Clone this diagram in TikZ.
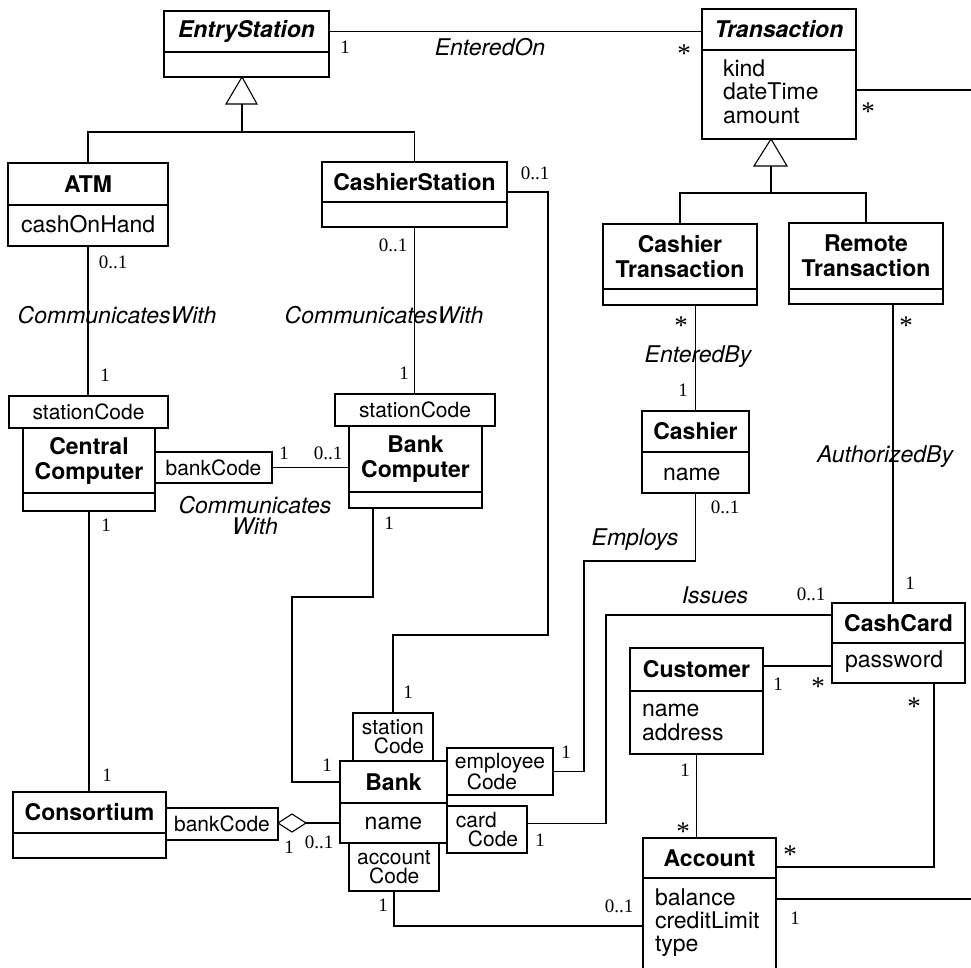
\documentclass[tikz,border=0pt]{standalone}
\usepackage{fontspec}
\setmainfont{TeX Gyre Heros}
\newfontfamily\mfont{Liberation Serif}
\usetikzlibrary{shapes.geometric}
\tikzset{
 every node/.style={inner sep=0pt, outer sep=0pt},
 cls/.style={draw, fill=white, line width=1.2pt, font=\fontsize{23}{25}\selectfont\bfseries, align=center},
 att/.style={draw, fill=white, line width=1.2pt, font=\fontsize{23}{23.5}\selectfont},
 qual/.style={draw, fill=white, line width=1.2pt, font=\fontsize{21}{19.5}\selectfont, align=left},
 txt/.style={font=\fontsize{23}{23.5}\selectfont, anchor=base west},
 mult/.style={font=\fontsize{19}{19}\selectfont\mfont},
 star/.style={font=\fontsize{27}{27}\selectfont\mfont},
 alab/.style={font=\fontsize{23}{21}\selectfont\itshape, align=center},
 ln/.style={line width=1.1pt},
}
\newcommand\bx[7][]{\node[#1, minimum width=#5pt-#3pt, minimum height=#6pt-#4pt] (#2) at ({(#3+#5)/2},{(#4+#6)/2}) {#7};}
\begin{document}
\begin{tikzpicture}[x=1pt,y=-1pt]
\fill[white] (0,0) rectangle (971,967);
\useasboundingbox (0,0) rectangle (971,967);

% classes
\bx[cls]{esH}{164}{11}{329}{52}{\itshape EntryStation}
\bx[att]{esA}{164}{52}{329}{77}{}
\bx[cls]{trH}{702}{9}{856}{50}{\itshape Transaction}
\bx[att]{trA}{702}{50}{856}{139}{}
\bx[cls]{atmH}{8}{163}{168}{205}{ATM}
\bx[att]{atmA}{8}{205}{168}{246}{}
\bx[cls]{csH}{322}{162}{507}{202}{CashierStation}
\bx[att]{csA}{322}{202}{507}{227}{}
\bx[cls]{ctH}{603}{224}{757}{289}{Cashier\\Transaction}
\bx[att]{ctA}{603}{289}{757}{305}{}
\bx[cls]{rtH}{789}{223}{943}{289}{Remote\\Transaction}
\bx[att]{rtA}{789}{289}{943}{304}{}
\bx[qual]{ccS}{9}{396}{168}{428}{stationCode}
\bx[cls]{ccH}{23}{428}{155}{493}{Central\\Computer}
\bx[att]{ccA}{23}{493}{155}{511}{}
\bx[qual]{ccB}{155}{452}{272}{483}{bankCode}
\bx[qual]{bcS}{335}{394}{495}{426}{stationCode}
\bx[cls]{bcH}{349}{426}{482}{492}{Bank\\Computer}
\bx[att]{bcA}{349}{492}{482}{508}{}
\bx[cls]{caH}{642}{411}{749}{452}{Cashier}
\bx[att]{caA}{642}{452}{749}{493}{}
\bx[cls]{cdH}{832}{603}{965}{643}{CashCard}
\bx[att]{cdA}{832}{643}{965}{683}{}
\bx[cls]{cuH}{630}{648}{763}{691}{Customer}
\bx[att]{cuA}{630}{691}{763}{754}{}
\bx[cls]{coH}{13}{792}{166}{833}{Consortium}
\bx[att]{coA}{13}{833}{166}{858}{}
\bx[qual]{coB}{166}{808}{278}{840}{bankCode}
\bx[cls]{bkH}{340}{761}{447}{803}{Bank}
\bx[att]{bkA}{340}{803}{447}{843}{name}
\bx[qual]{bkS}{353}{713}{433}{761}{station\\\hspace*{12pt}Code}
\bx[qual]{bkE}{447}{748}{553}{795}{employee\\\hspace*{12pt}Code}
\bx[qual]{bkC}{447}{806}{527}{853}{card\\\hspace*{12pt}Code}
\bx[qual]{bkAc}{349}{843}{439}{891}{account\\\hspace*{12pt}Code}
\bx[cls]{acH}{643}{838}{776}{878}{Account}
\bx[att]{acA}{643}{878}{776}{995}{}

% attribute texts
\node[txt] (t1) at (723,76) {kind};
\node[txt] (t2) at (723,99.5) {dateTime};
\node[txt] (t3) at (723,123) {amount};
\node[txt] (t4) at (21,232) {cashOnHand};
\node[txt] (t5) at (663,480) {name};
\node[txt] (t6) at (845,667) {password};
\node[txt] (t7) at (642,716) {name};
\node[txt] (t8) at (642,740) {address};
\node[txt] (t9) at (655,905) {balance};
\node[txt] (t10) at (655,928) {creditLimit};
\node[txt] (t11) at (655,951) {type};

% generalization triangles
\draw[ln, fill=white] (242,77) -- (257,104) -- (226,104) -- cycle;
\coordinate (esT) at (242,104);
\coordinate (esJ) at (242,132);
\draw[ln] (esT) -- (esJ);
\draw[ln] (atmH.north) |- (esJ) -| (csH.north);
\draw[ln, fill=white] (771,139) -- (787,166) -- (754,166) -- cycle;
\coordinate (trT) at (771,166);
\coordinate (trJ) at (771,193);
\draw[ln] (trT) -- (trJ);
\draw[ln] (ctH.north) |- (trJ) -| (rtH.north);

% associations
\draw[ln] (esH.east) -- (esH.east -| trH.west);
\coordinate (trOut) at (971,90);
\draw[ln] (trOut -| trA.east) -- (trOut);
\draw[ln] (atmA.south) -- (atmA.south |- ccS.north);
\draw[ln] (csA.south) -- (csA.south |- bcS.north);
\draw[ln] (ccB.east) -- (ccB.east -| bcH.west);
\draw[ln] (ccA.south) -- (ccA.south |- coH.north);
\coordinate (k1) at (292,597);
\draw[ln] (bcA.south west) ++(24,0) |- (k1) |- (bkH.west);
\coordinate (k2) at (548,635);
\draw[ln] (csH.east) ++(0,10) -| (k2) -| (bkS.north);
\node[diamond, draw, fill=white, line width=1.1pt, minimum width=28, minimum height=18] (dia) at (292,823) {};
\draw[ln] (coB.east) -- (dia.west);
\draw[ln] (dia.east) -- (bkA.west);
\coordinate (k3) at (584,561);
\draw[ln] (bkE.east) -| (k3) -| (caA.south);
\coordinate (k4) at (606,615);
\draw[ln] (bkC.east) ++(0,-6) -| (k4) -- (k4 -| cdH.west);
\draw[ln] (caH.north) -- (caH.north |- ctA.south);
\coordinate (k5) at (893,0);
\draw[ln] (k5 |- rtA.south) -- (k5 |- cdH.north);
\coordinate (k6) at (0,666);
\draw[ln] (k6 -| cuH.east) -- (k6 -| cdA.west);
\coordinate (k7) at (934,867);
\draw[ln] (k7 |- cdA.south) |- (k7 -| acH.east);
\draw[ln] (cuA.south) -- (cuA.south |- acH.north);
\coordinate (k8) at (971,899);
\draw[ln] (k8 -| acA.east) -- (k8);
\coordinate (k9) at (0,926);
\draw[ln] (bkAc.south) |- (k9 -| acA.west);

% association labels
\node[alab] (l1) at (490,47) {EnteredOn};
\node[alab] (l2) at (117,315) {CommunicatesWith};
\node[alab] (l3) at (384,315) {CommunicatesWith};
\node[alab] (l4) at (255,515) {Communicates\\With};
\node[alab] (l5) at (698,357) {EnteredBy};
\node[alab] (l6) at (885,457) {AuthorizedBy};
\node[alab] (l7) at (635,540) {Employs};
\node[alab] (l8) at (715,595) {Issues};

% multiplicities
\node[mult] (m1) at (345,47) {1};
\node[star] (m2) at (684,54) {*};
\node[star] (m3) at (868,112) {*};
\node[mult] (m4) at (113,262) {0..1};
\node[mult] (m5) at (393,245) {0..1};
\node[mult] (m6) at (535,173) {0..1};
\node[mult] (m7) at (105,375) {1};
\node[mult] (m8) at (404,373) {1};
\node[mult] (m9) at (284,453) {1};
\node[mult] (m10) at (328,453) {0..1};
\node[mult] (m11) at (106,525) {1};
\node[mult] (m12) at (389,523) {1};
\node[mult] (m13) at (107,775) {1};
\node[mult] (m14) at (327,765) {1};
\node[mult] (m15) at (408,692) {1};
\node[mult] (m16) at (289,847) {1};
\node[mult] (m17) at (319,842) {0..1};
\node[mult] (m18) at (566,752) {1};
\node[mult] (m19) at (725,507) {0..1};
\node[mult] (m20) at (540,840) {1};
\node[mult] (m21) at (811,594) {0..1};
\node[star] (m22) at (681,326) {*};
\node[mult] (m23) at (683,390) {1};
\node[star] (m24) at (906,326) {*};
\node[mult] (m25) at (910,583) {1};
\node[mult] (m26) at (778,684) {1};
\node[star] (m27) at (818,687) {*};
\node[star] (m28) at (914,707) {*};
\node[star] (m29) at (790,855) {*};
\node[mult] (m30) at (685,770) {1};
\node[star] (m31) at (683,832) {*};
\node[mult] (m32) at (795,918) {1};
\node[mult] (m33) at (383,905) {1};
\node[mult] (m34) at (619,906) {0..1};
\end{tikzpicture}
\end{document}
